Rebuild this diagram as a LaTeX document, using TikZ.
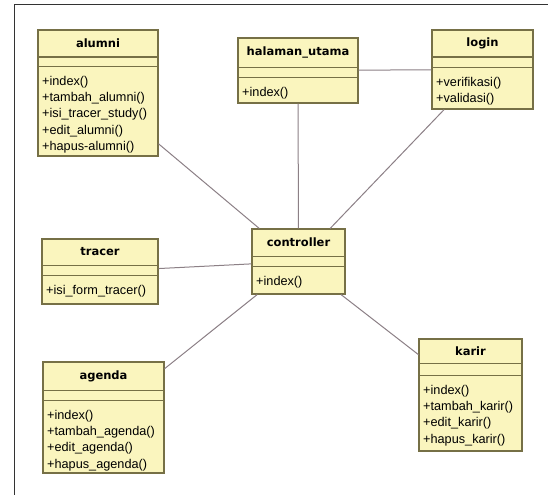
\documentclass[tikz,border=0pt]{standalone}
\usepackage{fontspec}
\setmainfont{Liberation Sans}
\newfontfamily\titlefam{DejaVu Sans}
\usetikzlibrary{fit}
\definecolor{boxfill}{RGB}{250,245,190}
\definecolor{boxline}{RGB}{118,112,70}
\definecolor{conn}{RGB}{140,128,134}
\tikzset{
  classbox/.style={draw=boxline, fill=boxfill, line width=1.1pt, inner sep=0pt},
  sepline/.style={draw=boxline, line width=1pt},
  classtitle/.style={font=\titlefam\bfseries\fontsize{11.5}{13}\selectfont, inner sep=0pt},
  methods/.style={font=\fontsize{12.7}{16.2}\selectfont, align=left, anchor=north west, inner sep=0pt},
  assoc/.style={draw=conn, line width=1pt},
  frameline/.style={draw=black!80, line width=1pt}
}
% #1 name, #2 left, #3 top, #4 right, #5 bottom, #6 name bottom, #7 attr bottom, #8 title, #9 methods
\newcommand\umlclass[9]{%
  \node[classbox, fit={(#2,#3) (#4,#5)}] (#1) {};
  \draw[sepline] (#2,#6) -- (#4,#6);
  \draw[sepline] (#2,#7) -- (#4,#7);
  \node[classtitle] (#1-title) at ({(#2+#4)/2},{(#3+#6)/2}) {#8};
  \node[methods] (#1-ops) at ({#2+4},{#7+10}) {#9};
}
\begin{document}
\begin{tikzpicture}[x=1pt,y=-1pt]
\useasboundingbox (0,0) rectangle (548,495);
\fill[white] (0,0) rectangle (548,495);
\coordinate (frtl) at (14,5);
\coordinate (frtr) at (548,5);
\coordinate (frbl) at (14,495);
\draw[frameline] (frtr) -- (frtl) -- (frbl);

\umlclass{alumni}{38}{30}{158}{156}{57}{66}{alumni}{+index()\\+tambah\_alumni()\\+isi\_tracer\_study()\\+edit\_alumni()\\+hapus-alumni()}
\umlclass{halaman}{238}{38}{358}{103}{67}{77}{halaman\_utama}{+index()}
\umlclass{login}{432}{30}{533}{109}{57}{67}{login}{+verifikasi()\\+validasi()}
\umlclass{controller}{252}{229}{345}{294}{256}{266}{controller}{+index()}
\umlclass{tracer}{42}{239}{158}{304}{265}{275}{tracer}{+isi\_form\_tracer()}
\umlclass{agenda}{43}{362}{164}{473}{390}{400}{agenda}{+index()\\+tambah\_agenda()\\+edit\_agenda()\\+hapus\_agenda()}
\umlclass{karir}{419}{339}{522}{451}{363}{375}{karir}{+index()\\+tambah\_karir()\\+edit\_karir()\\+hapus\_karir()}

\draw[assoc] (halaman) -- (login);
\draw[assoc] (halaman) -- (controller);
\draw[assoc] (alumni) -- (controller);
\draw[assoc] (login) -- (controller);
\draw[assoc] (tracer) -- (controller);
\draw[assoc] (agenda) -- (controller);
\draw[assoc] (karir) -- (controller);
\end{tikzpicture}
\end{document}
